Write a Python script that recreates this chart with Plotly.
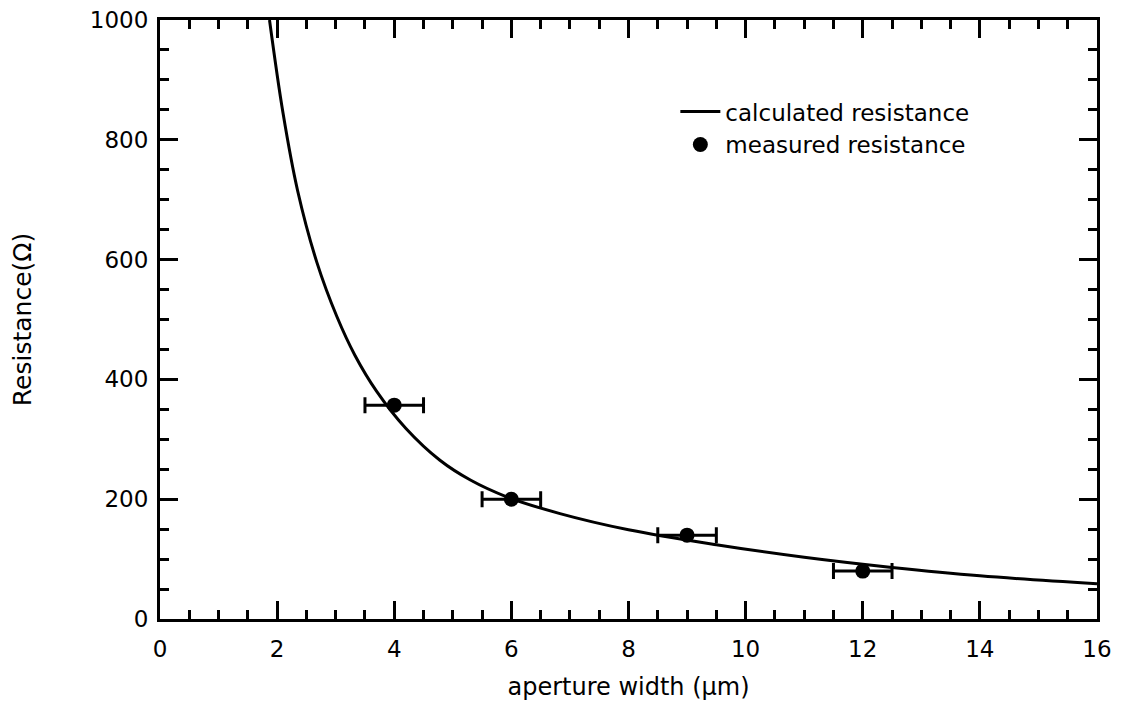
import plotly.graph_objects as go

# calculated resistance curve
calc_x = [1.87, 2.1, 2.35, 2.68, 3.02, 3.33, 3.70, 4.2, 4.78, 5.3, 5.92, 6.83, 8.0, 9.5, 11.0, 12.5, 14.0, 16.0]
calc_r = [1000, 845, 715, 595, 505, 440, 380, 318, 265, 232, 204, 176, 149, 124, 103, 86, 72, 59]

# measured resistance
meas_x = [4, 6, 9, 12]
meas_r = [357, 200, 140, 80]
meas_xerr = [0.5, 0.5, 0.5, 0.5]

x_ticks = [0, 2, 4, 6, 8, 10, 12, 14, 16]
y_ticks = [0, 200, 400, 600, 800, 1000]

FONT = "DejaVu Sans, Liberation Sans, Arial, sans-serif"

fig = go.Figure()
fig.add_trace(go.Scatter(
    x=calc_x, y=calc_r, mode="lines", name="calculated resistance",
    line=dict(color="black", width=3, shape="spline", smoothing=1.0),
))
fig.add_trace(go.Scatter(
    x=meas_x, y=meas_r, mode="markers", name="measured resistance",
    marker=dict(color="black", size=15, symbol="circle"),
    error_x=dict(type="data", array=meas_xerr, color="black", thickness=3, width=8),
))

axis_common = dict(
    showline=True, linecolor="black", linewidth=3, mirror="allticks",
    ticks="inside", ticklen=18, tickwidth=3, tickcolor="black",
    showgrid=False, zeroline=False, ticklabeloverflow="allow",
    tickfont=dict(family=FONT, size=23, color="black"),
)

fig.update_xaxes(
    range=[0, 16], tickvals=x_ticks, ticktext=[str(v) for v in x_ticks],
    minor=dict(dtick=0.5, ticks="inside", ticklen=9, tickwidth=2.5, tickcolor="black", showgrid=False),
    ticklabelstandoff=7,
    title=dict(text="aperture width (μm)", font=dict(family=FONT, size=24, color="black"), standoff=18),
    **axis_common,
)
fig.update_yaxes(
    range=[0, 1000], tickvals=y_ticks, ticktext=[str(v) for v in y_ticks],
    minor=dict(dtick=50, ticks="inside", ticklen=9, tickwidth=2.5, tickcolor="black", showgrid=False),
    ticklabelstandoff=4,
    title=dict(text="Resistance(Ω)", font=dict(family=FONT, size=25, color="black"), standoff=62),
    **axis_common,
)

fig.update_layout(
    width=1125, height=710,
    margin=dict(l=152, r=36, t=12, b=99, autoexpand=False),
    plot_bgcolor="white", paper_bgcolor="white",
    showlegend=True,
    legend=dict(
        x=0.55, y=0.883, xanchor="left", yanchor="top",
        font=dict(family=FONT, size=23, color="black"),
        bgcolor="rgba(0,0,0,0)", itemwidth=40, tracegroupgap=0,
    ),
)

fig.write_html("out.html")
